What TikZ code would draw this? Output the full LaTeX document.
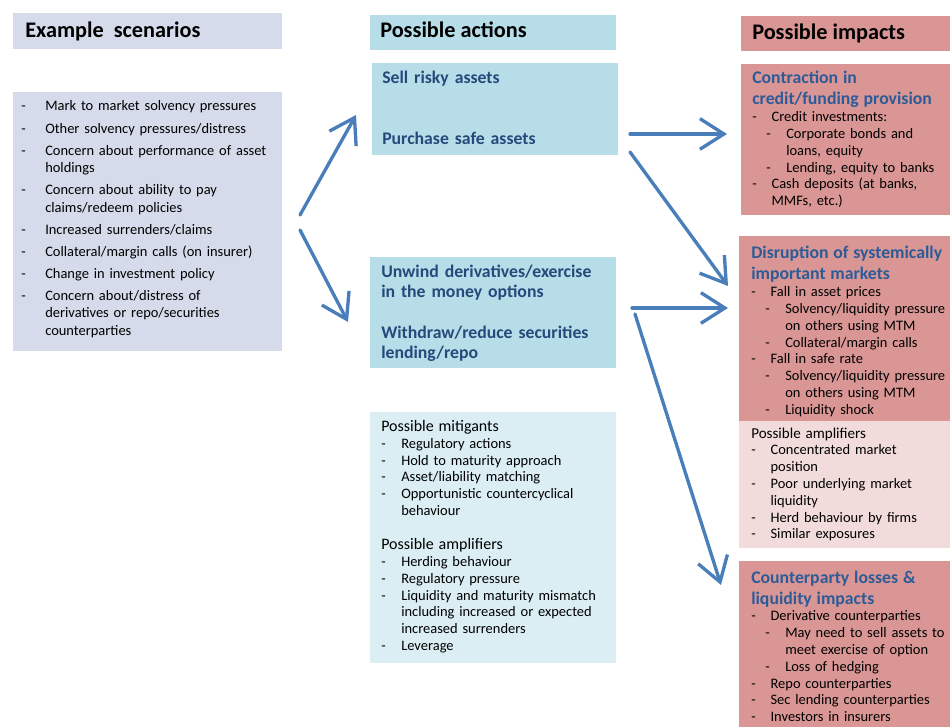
\documentclass[tikz,border=0pt]{standalone}
\usepackage{fontspec}
\setmainfont{Carlito}
\usetikzlibrary{fit,arrows.meta}

\definecolor{scgray}{HTML}{D5DBEA}
\definecolor{acblue}{HTML}{B7DDE8}
\definecolor{mitblue}{HTML}{DBEEF4}
\definecolor{impred}{HTML}{D99694}
\definecolor{amppink}{HTML}{F2DCDB}
\definecolor{arrowblue}{HTML}{4A7EBB}
\definecolor{ttlnavy}{HTML}{244A7C}
\definecolor{ttlblue}{HTML}{2D5B98}

% list items: dash, then hanging text
\newlength\itmind
\setlength\itmind{14.5pt}
\newcommand\itm[1]{\noindent\hangindent=\itmind\hangafter=1\makebox[\itmind][l]{-}#1\par}
\newcommand\sitm[1]{\noindent\hangindent=25.5pt\hangafter=1\hspace*{10.5pt}\makebox[15pt][l]{-}#1\par}
\newcommand\ttl{\fontsize{13.3}{15.75}\selectfont\bfseries\color{ttlblue}}

\tikzset{
  box/.style={inner sep=0pt, outer sep=0pt},
  hdr/.style={inner sep=0pt, anchor=base west, font=\fontsize{16.7}{19}\selectfont\bfseries},
  txt/.style={inner sep=0pt, anchor=base west, align=left, font=\fontsize{10.85}{12.6}\selectfont},
  act/.style={inner sep=0pt, anchor=base west, align=left, text width=185pt, text=ttlnavy,
    font=\fontsize{13.3}{15}\selectfont\bfseries},
  flow/.style={draw=arrowblue, line width=2.5pt, line cap=round,
    -{Straight Barb[length=18pt,width=23pt]}},
}

\begin{document}
\begin{tikzpicture}[x=0.75pt, y=-0.75pt]
  \useasboundingbox (0,0) rectangle (950,727);

  % example scenarios
  \node[box, fill=scgray, fit={(13,13) (282,49)}] (schdr) {};
  \node[hdr] (schdrtxt) at ([shift={(12,25)}]schdr.north west) {Example\ \ scenarios};
  \node[box, fill=scgray, fit={(13,92) (282,351)}] (sclist) {};
  \node[txt, text width=205pt, font=\fontsize{10.85}{13}\selectfont] (sclisttxt)
    at ([shift={(8,19)}]sclist.north west) {%
    \setlength\itmind{18pt}\setlength\parskip{3.6pt}%
    \itm{Mark to market solvency pressures}
    \itm{Other solvency pressures/distress}
    \itm{Concern about performance of asset\newline holdings}
    \itm{Concern about ability to pay\newline claims/redeem policies}
    \itm{Increased surrenders/claims}
    \itm{Collateral/margin calls (on insurer)}
    \itm{Change in investment policy}
    \itm{Concern about/distress of\newline derivatives or repo/securities\newline counterparties}};

  % possible actions
  \node[box, fill=acblue, fit={(370,15) (616,50)}] (achdr) {};
  \node[hdr] (achdrtxt) at ([shift={(10,23)}]achdr.north west) {Possible actions};
  \node[box, fill=acblue, fit={(372,63) (618,155)}] (act1) {};
  \node[act] (act1txt) at ([shift={(10,21)}]act1.north west) {%
    Sell risky assets\par\vspace{30.75pt}Purchase safe assets};
  \node[box, fill=acblue, fit={(370,257) (616,368)}] (act2) {};
  \node[act] (act2txt) at ([shift={(11,21)}]act2.north west) {%
    Unwind derivatives/exercise\newline in the money options\par\vspace{15.75pt}%
    Withdraw/reduce securities\newline lending/repo};
  \node[box, fill=mitblue, fit={(370,412) (616,663)}] (mit) {};
  \node[txt, text width=190pt] (mittxt) at ([shift={(11,19.5)}]mit.north west) {%
    \setlength\itmind{15pt}%
    {\fontsize{12}{12.6}\selectfont Possible mitigants\par}
    \itm{Regulatory actions}
    \itm{Hold to maturity approach}
    \itm{Asset/liability matching}
    \itm{Opportunistic countercyclical\newline behaviour}
    \vspace{13pt}%
    {\fontsize{12}{12.6}\selectfont Possible amplifiers\par}
    \itm{Herding behaviour}
    \itm{Regulatory pressure}
    \itm{Liquidity and maturity mismatch\newline including increased or expected\newline increased surrenders}
    \itm{Leverage}};

  % possible impacts
  \node[box, fill=impred, fit={(741,16) (950,51)}] (imhdr) {};
  \node[hdr] (imhdrtxt) at ([shift={(11,23.5)}]imhdr.north west) {Possible impacts};
  \node[box, fill=impred, fit={(741,64) (950,215)}] (imp1) {};
  \node[txt, text width=165pt] (imp1txt) at ([shift={(11,20)}]imp1.north west) {%
    {\ttl Contraction in\newline credit/funding provision\par}
    \itm{Credit investments:}
    \sitm{Corporate bonds and\newline loans, equity}
    \sitm{Lending, equity to banks}
    \itm{Cash deposits (at banks,\newline MMFs, etc.)}};
  \node[box, fill=impred, fit={(739,236) (950,421)}] (imp2) {};
  \node[txt, text width=165pt] (imp2txt) at ([shift={(12,23)}]imp2.north west) {%
    {\ttl Disruption of systemically\newline important markets\par}
    \itm{Fall in asset prices}
    \sitm{Solvency/liquidity pressure\newline on others using MTM}
    \sitm{Collateral/margin calls}
    \itm{Fall in safe rate}
    \sitm{Solvency/liquidity pressure\newline on others using MTM}
    \sitm{Liquidity shock}};
  \node[box, fill=amppink, fit={(739,421) (950,548)}] (amp) {};
  \node[txt, text width=165pt] (amptxt) at ([shift={(12,17)}]amp.north west) {%
    {\fontsize{11.3}{12.6}\selectfont Possible amplifiers\par}
    \itm{Concentrated market\newline position}
    \itm{Poor underlying market\newline liquidity}
    \itm{Herd behaviour by firms}
    \itm{Similar exposures}};
  \node[box, fill=impred, fit={(739,561) (950,727)}] (imp3) {};
  \node[txt, text width=165pt] (imp3txt) at ([shift={(12,22)}]imp3.north west) {%
    {\ttl Counterparty losses \&\newline liquidity impacts\par}
    \itm{Derivative counterparties}
    \sitm{May need to sell assets to\newline meet exercise of option}
    \sitm{Loss of hedging}
    \itm{Repo counterparties}
    \itm{Sec lending counterparties}
    \itm{Investors in insurers}};

  % arrows
  \draw[flow] ([shift={(18,-6.5)}]sclist.east) -- ([shift={(-16,6)}]act1.west);
  \draw[flow] ([shift={(18,8.5)}]sclist.east) -- ([shift={(-22,9.5)}]act2.west);
  \draw[flow] ([shift={(12,25)}]act1.east) -- ([shift={(-14,-5.5)}]imp1.west);
  \draw[flow] ([shift={(12,-3)}]act1.south east) -- ([shift={(-11,-42.5)}]imp2.west);
  \draw[flow] ([shift={(16,-4.5)}]act2.east) -- ([shift={(-11,-20.5)}]imp2.west);
  \draw[flow] ([shift={(19,1.5)}]act2.east) -- ([shift={(-18,24)}]imp3.north west);
\end{tikzpicture}
\end{document}
